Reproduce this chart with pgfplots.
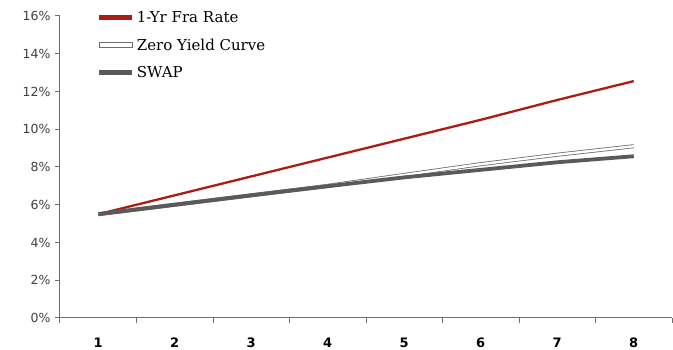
\documentclass[border=0pt]{standalone}
\usepackage{pgfplots}
\pgfplotsset{compat=1.18}
\usepackage{fontspec}
\setmainfont{DejaVu Serif}
\newfontfamily\tickfont{DejaVu Sans}
\definecolor{fracol}{RGB}{170,28,20}
\definecolor{swapcol}{RGB}{90,90,90}
\definecolor{axgray}{RGB}{110,110,110}
\definecolor{lblgray}{RGB}{64,64,64}
\begin{document}
\begin{tikzpicture}[x=1pt,y=1pt]
\path[use as bounding box] (0,0) rectangle (673,350);
\begin{axis}[
  at={(60pt,32pt)}, anchor=south west,
  scale only axis, width=612pt, height=302pt,
  xmin=0.5, xmax=8.5, ymin=0, ymax=16,
  axis lines*=left,
  axis line style={-, draw=axgray, line width=1pt},
  tick style={draw=axgray, line width=1pt},
  tick align=outside,
  major tick length=5pt, minor tick length=5pt,
  xtick={1,...,8},
  major x tick style={draw=none},
  minor xtick={0.5,1.5,...,8.5},
  ytick={0,2,...,16},
  /pgf/number format/assume math mode=true,
  yticklabel={\pgfmathprintnumber{\tick}\%},
  xticklabel style={font=\tickfont\bfseries\fontsize{13}{13}\selectfont, text=black, yshift=-11pt},
  yticklabel style={font=\tickfont\fontsize{12.5}{12.5}\selectfont, text=lblgray, xshift=-1pt},
  legend style={at={(0.055,1.03)}, anchor=north west, draw=none, fill=none,
    font=\fontsize{15}{15}\selectfont, row sep=11pt},
  legend cell align=left,
]
\addplot[fracol, line width=2.3pt,
  legend image code/.code={\draw[fracol, line width=5pt] (0pt,0pt) -- (33pt,0pt);}]
  coordinates {(1,5.5)(2,6.5)(3,7.5)(4,8.5)(5,9.5)(6,10.5)(7,11.55)(8,12.55)};
\addlegendentry{1-Yr Fra Rate}
\addplot[axgray, line width=4pt, forget plot]
  coordinates {(1,5.5)(2,6.0)(3,6.5)(4,7.0)(5,7.58)(6,8.15)(7,8.65)(8,9.1)};
\addplot[white, line width=2.4pt,
  legend image code/.code={\draw[axgray, fill=white, line width=0.7pt] (0pt,-2.5pt) rectangle (33pt,2.5pt);}]
  coordinates {(1,5.5)(2,6.0)(3,6.5)(4,7.0)(5,7.58)(6,8.15)(7,8.65)(8,9.1)};
\addlegendentry{Zero Yield Curve}
\addplot[swapcol, line width=3.8pt,
  legend image code/.code={\draw[swapcol, line width=5pt] (0pt,0pt) -- (33pt,0pt);}]
  coordinates {(1,5.5)(2,6.0)(3,6.5)(4,6.98)(5,7.45)(6,7.85)(7,8.25)(8,8.57)};
\addlegendentry{SWAP}
\end{axis}
\end{tikzpicture}
\end{document}
